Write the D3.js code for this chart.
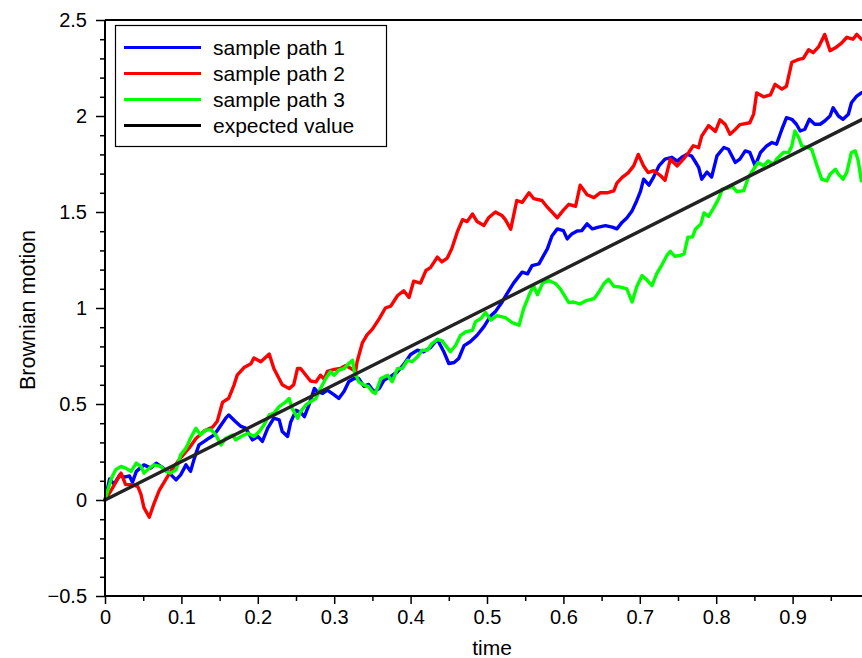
<!DOCTYPE html>
<html><head><meta charset="utf-8">
<script src="https://cdn.jsdelivr.net/npm/d3@7"></script>
<style>
body{margin:0;background:#fff}
svg text{font-family:"Liberation Sans",Arial,Helvetica,sans-serif;fill:#000}
</style>
</head><body><svg id="chart" width="862" height="658"></svg>
<script>
const seriesNames = ["sample path 1", "sample path 2", "sample path 3", "expected value"];
const seriesColors = ["#0000ff", "#ff0000", "#00ff00", "#222222"];

// [time, value]
const path1 = [[0,0],[0.006,0.109],[0.012,0.083],[0.019,0.130],[0.025,0.119],[0.032,0.125],[0.036,0.093],[0.041,0.149],[0.051,0.183],[0.060,0.166],[0.067,0.192],[0.073,0.175],[0.082,0.149],[0.093,0.105],[0.099,0.131],[0.106,0.183],[0.112,0.149],[0.117,0.218],[0.123,0.287],[0.130,0.305],[0.136,0.322],[0.143,0.339],[0.149,0.374],[0.158,0.426],[0.162,0.443],[0.171,0.408],[0.178,0.383],[0.184,0.374],[0.193,0.313],[0.200,0.331],[0.206,0.305],[0.213,0.374],[0.221,0.426],[0.228,0.417],[0.232,0.357],[0.239,0.331],[0.243,0.405],[0.250,0.467],[0.256,0.457],[0.261,0.434],[0.267,0.495],[0.274,0.581],[0.278,0.564],[0.285,0.555],[0.291,0.572],[0.300,0.547],[0.306,0.529],[0.313,0.566],[0.319,0.616],[0.326,0.633],[0.332,0.633],[0.339,0.592],[0.345,0.602],[0.352,0.564],[0.359,0.581],[0.365,0.623],[0.374,0.644],[0.383,0.668],[0.391,0.706],[0.400,0.758],[0.409,0.780],[0.417,0.772],[0.426,0.794],[0.435,0.836],[0.444,0.768],[0.450,0.711],[0.457,0.716],[0.463,0.737],[0.470,0.804],[0.478,0.824],[0.487,0.858],[0.496,0.903],[0.505,0.960],[0.511,0.981],[0.520,1.033],[0.526,1.074],[0.535,1.131],[0.546,1.187],[0.553,1.178],[0.559,1.221],[0.568,1.230],[0.574,1.273],[0.579,1.308],[0.585,1.375],[0.592,1.412],[0.600,1.403],[0.605,1.360],[0.611,1.386],[0.618,1.401],[0.624,1.403],[0.631,1.438],[0.638,1.412],[0.646,1.421],[0.655,1.429],[0.664,1.421],[0.670,1.412],[0.677,1.447],[0.683,1.469],[0.690,1.507],[0.696,1.559],[0.701,1.609],[0.705,1.671],[0.712,1.640],[0.718,1.682],[0.725,1.740],[0.733,1.775],[0.742,1.785],[0.749,1.765],[0.755,1.785],[0.762,1.801],[0.768,1.791],[0.773,1.759],[0.777,1.733],[0.781,1.671],[0.788,1.708],[0.794,1.682],[0.801,1.792],[0.810,1.836],[0.816,1.827],[0.825,1.758],[0.831,1.775],[0.838,1.818],[0.844,1.810],[0.851,1.740],[0.858,1.810],[0.866,1.844],[0.873,1.862],[0.879,1.853],[0.886,1.931],[0.892,1.991],[0.899,1.983],[0.905,1.957],[0.910,1.922],[0.916,1.931],[0.922,1.983],[0.929,1.957],[0.936,1.957],[0.942,1.974],[0.949,2.000],[0.953,2.043],[0.960,2.000],[0.966,1.983],[0.973,2.009],[0.977,2.069],[0.984,2.104],[0.990,2.121]];

const path2 = [[0,0],[0.008,0.050],[0.021,0.140],[0.027,0.080],[0.036,0.080],[0.043,0.070],[0.047,0.030],[0.051,-0.040],[0.058,-0.090],[0.064,-0.020],[0.071,0.050],[0.080,0.110],[0.088,0.160],[0.099,0.220],[0.110,0.270],[0.119,0.320],[0.130,0.360],[0.141,0.380],[0.147,0.410],[0.154,0.510],[0.162,0.530],[0.169,0.600],[0.173,0.650],[0.182,0.690],[0.191,0.710],[0.195,0.740],[0.204,0.720],[0.215,0.760],[0.221,0.685],[0.232,0.600],[0.241,0.580],[0.247,0.600],[0.252,0.685],[0.256,0.685],[0.263,0.650],[0.269,0.620],[0.276,0.615],[0.282,0.650],[0.287,0.630],[0.291,0.670],[0.300,0.680],[0.308,0.685],[0.315,0.700],[0.322,0.685],[0.328,0.670],[0.330,0.720],[0.337,0.820],[0.343,0.860],[0.350,0.890],[0.359,0.945],[0.367,1.000],[0.374,1.010],[0.383,1.065],[0.391,1.090],[0.398,1.055],[0.404,1.140],[0.413,1.130],[0.420,1.195],[0.426,1.210],[0.435,1.265],[0.441,1.240],[0.448,1.260],[0.454,1.310],[0.461,1.395],[0.468,1.460],[0.474,1.450],[0.481,1.490],[0.487,1.450],[0.496,1.430],[0.502,1.470],[0.511,1.500],[0.520,1.480],[0.524,1.460],[0.531,1.410],[0.539,1.560],[0.546,1.550],[0.555,1.600],[0.561,1.570],[0.572,1.560],[0.579,1.525],[0.592,1.470],[0.600,1.510],[0.607,1.540],[0.616,1.530],[0.622,1.640],[0.631,1.590],[0.640,1.575],[0.648,1.600],[0.657,1.600],[0.666,1.610],[0.670,1.650],[0.677,1.680],[0.685,1.705],[0.692,1.740],[0.698,1.800],[0.705,1.740],[0.711,1.705],[0.718,1.715],[0.727,1.690],[0.733,1.665],[0.740,1.775],[0.749,1.740],[0.757,1.775],[0.764,1.810],[0.770,1.845],[0.777,1.835],[0.781,1.895],[0.790,1.950],[0.799,1.920],[0.805,1.980],[0.812,1.955],[0.818,1.905],[0.825,1.930],[0.831,1.955],[0.844,1.965],[0.849,2.010],[0.853,2.120],[0.862,2.100],[0.871,2.110],[0.877,2.165],[0.886,2.140],[0.892,2.155],[0.899,2.280],[0.908,2.295],[0.914,2.300],[0.921,2.345],[0.927,2.330],[0.934,2.360],[0.942,2.425],[0.949,2.340],[0.956,2.355],[0.964,2.380],[0.971,2.410],[0.979,2.400],[0.984,2.425],[0.990,2.400]];

const path3 = [[0,0],[0.008,0.109],[0.014,0.158],[0.021,0.175],[0.027,0.166],[0.034,0.149],[0.041,0.192],[0.047,0.175],[0.051,0.140],[0.058,0.166],[0.064,0.183],[0.073,0.175],[0.080,0.149],[0.086,0.140],[0.093,0.157],[0.099,0.235],[0.106,0.270],[0.112,0.322],[0.119,0.374],[0.125,0.339],[0.132,0.365],[0.139,0.365],[0.145,0.339],[0.152,0.287],[0.158,0.322],[0.167,0.339],[0.171,0.313],[0.178,0.331],[0.187,0.348],[0.195,0.331],[0.202,0.357],[0.208,0.391],[0.215,0.443],[0.221,0.452],[0.228,0.486],[0.237,0.512],[0.241,0.529],[0.245,0.477],[0.252,0.426],[0.256,0.460],[0.263,0.495],[0.269,0.512],[0.276,0.529],[0.282,0.581],[0.289,0.633],[0.295,0.668],[0.300,0.650],[0.306,0.676],[0.313,0.685],[0.319,0.711],[0.324,0.728],[0.326,0.676],[0.332,0.616],[0.339,0.598],[0.345,0.590],[0.350,0.564],[0.354,0.555],[0.361,0.633],[0.370,0.650],[0.376,0.616],[0.383,0.685],[0.389,0.685],[0.396,0.728],[0.402,0.720],[0.409,0.746],[0.415,0.780],[0.422,0.780],[0.428,0.815],[0.435,0.836],[0.441,0.830],[0.446,0.804],[0.452,0.772],[0.459,0.806],[0.465,0.856],[0.472,0.876],[0.481,0.884],[0.485,0.929],[0.492,0.945],[0.498,0.976],[0.505,0.937],[0.513,0.960],[0.524,0.950],[0.533,0.924],[0.542,0.910],[0.548,0.997],[0.555,1.066],[0.561,1.117],[0.566,1.069],[0.573,1.131],[0.581,1.143],[0.590,1.126],[0.596,1.100],[0.603,1.054],[0.607,1.028],[0.613,1.031],[0.622,1.022],[0.631,1.040],[0.640,1.048],[0.646,1.080],[0.653,1.126],[0.659,1.150],[0.666,1.113],[0.675,1.109],[0.683,1.100],[0.690,1.031],[0.696,1.111],[0.703,1.169],[0.709,1.147],[0.716,1.117],[0.722,1.178],[0.729,1.225],[0.736,1.277],[0.740,1.295],[0.746,1.269],[0.753,1.274],[0.758,1.282],[0.763,1.369],[0.769,1.370],[0.773,1.412],[0.780,1.438],[0.784,1.495],[0.790,1.477],[0.796,1.516],[0.803,1.567],[0.808,1.619],[0.816,1.625],[0.821,1.635],[0.827,1.606],[0.836,1.611],[0.842,1.680],[0.849,1.723],[0.855,1.758],[0.862,1.740],[0.868,1.766],[0.875,1.749],[0.879,1.775],[0.888,1.810],[0.895,1.810],[0.899,1.844],[0.903,1.922],[0.908,1.888],[0.912,1.844],[0.919,1.836],[0.925,1.827],[0.932,1.740],[0.938,1.671],[0.945,1.662],[0.949,1.697],[0.956,1.723],[0.960,1.697],[0.966,1.671],[0.971,1.706],[0.977,1.810],[0.982,1.818],[0.986,1.766],[0.990,1.662]];

const expected = [[0, 0], [1, 2]];

const xTicks = [0, 0.1, 0.2, 0.3, 0.4, 0.5, 0.6, 0.7, 0.8, 0.9];
const xTickLabels = ["0", "0.1", "0.2", "0.3", "0.4", "0.5", "0.6", "0.7", "0.8", "0.9"];
const xMinorTicks = [0.05, 0.15, 0.25, 0.35, 0.45, 0.55, 0.65, 0.75, 0.85, 0.95];
const yTicks = [-0.5, 0, 0.5, 1, 1.5, 2, 2.5];
const yTickLabels = ["\u22120.5", "0", "0.5", "1", "1.5", "2", "2.5"];
const yMinorTicks = [-0.4,-0.3,-0.2,-0.1,0.1,0.2,0.3,0.4,0.6,0.7,0.8,0.9,1.1,1.2,1.3,1.4,1.6,1.7,1.8,1.9,2.1,2.2,2.3,2.4];

const xTitle = "time";
const yTitle = "Brownian motion";

const svg = d3.select("#chart");
const L = 105, R = 869, T = 20, B = 596;
const x = d3.scaleLinear().domain([0, 1]).range([L, R]);
const y = d3.scaleLinear().domain([-0.5, 2.5]).range([B, T]);

svg.append("rect").attr("width", 862).attr("height", 658).attr("fill", "#fff");

const line = d3.line().x(d => x(d[0])).y(d => y(d[1]));
const allSeries = [path1, path2, path3, expected];
allSeries.forEach((s, i) => {
  svg.append("path").datum(s)
    .attr("d", line)
    .attr("fill", "none")
    .attr("stroke", seriesColors[i])
    .attr("stroke-width", i === 3 ? 3.4 : 3.4)
    .attr("stroke-linejoin", "round")
    .attr("stroke-linecap", "round");
});

// frame top
svg.append("line").attr("x1", L).attr("x2", R).attr("y1", T).attr("y2", T)
  .attr("stroke", "#000").attr("stroke-width", 2);

const fontSize = 20;
// x axis
const gx = svg.append("g").attr("transform", `translate(0,${B})`)
  .call(d3.axisBottom(x).tickValues(xTicks).tickSize(8).tickPadding(6)
    .tickFormat((d, i) => xTickLabels[i]));
const gxm = svg.append("g").attr("transform", `translate(0,${B})`)
  .call(d3.axisBottom(x).tickValues(xMinorTicks).tickSize(5).tickFormat(""));
// y axis
const gy = svg.append("g").attr("transform", `translate(${L},0)`)
  .call(d3.axisLeft(y).tickValues(yTicks).tickSize(9).tickPadding(9)
    .tickFormat((d, i) => yTickLabels[i]));
const gym = svg.append("g").attr("transform", `translate(${L},0)`)
  .call(d3.axisLeft(y).tickValues(yMinorTicks).tickSize(5).tickFormat(""));

[gx, gxm, gy, gym].forEach(g => {
  g.select(".domain").remove();
  g.selectAll(".tick line").attr("stroke", "#000").attr("stroke-width", 1.5);
  g.selectAll("text").attr("font-size", fontSize)
    .attr("font-family", '"Liberation Sans",Arial,sans-serif').attr("fill", "#000");
});
svg.append("line").attr("x1", L).attr("x2", R).attr("y1", B).attr("y2", B)
  .attr("stroke", "#000").attr("stroke-width", 2);
svg.append("line").attr("x1", L).attr("x2", L).attr("y1", T).attr("y2", B)
  .attr("stroke", "#000").attr("stroke-width", 2);

// titles
svg.append("text").attr("x", 492).attr("y", 655).attr("text-anchor", "middle")
  .attr("font-size", 21).text(xTitle);
svg.append("text").attr("transform", "translate(35,310) rotate(-90)")
  .attr("text-anchor", "middle").attr("font-size", 21.5).text(yTitle);

// legend
const lg = svg.append("g");
lg.append("rect").attr("x", 115.5).attr("y", 25.5).attr("width", 271).attr("height", 121)
  .attr("fill", "#fff").attr("stroke", "#000").attr("stroke-width", 1.2);
seriesNames.forEach((n, i) => {
  const yy = 47.5 + i * 26;
  lg.append("line").attr("x1", 124).attr("x2", 201).attr("y1", yy).attr("y2", yy)
    .attr("stroke", seriesColors[i] === "#222222" ? "#000" : seriesColors[i]).attr("stroke-width", 3);
  lg.append("text").attr("x", 213).attr("y", yy).attr("dy", "0.35em")
    .attr("font-size", 21).text(n);
});
</script>
</body></html>
